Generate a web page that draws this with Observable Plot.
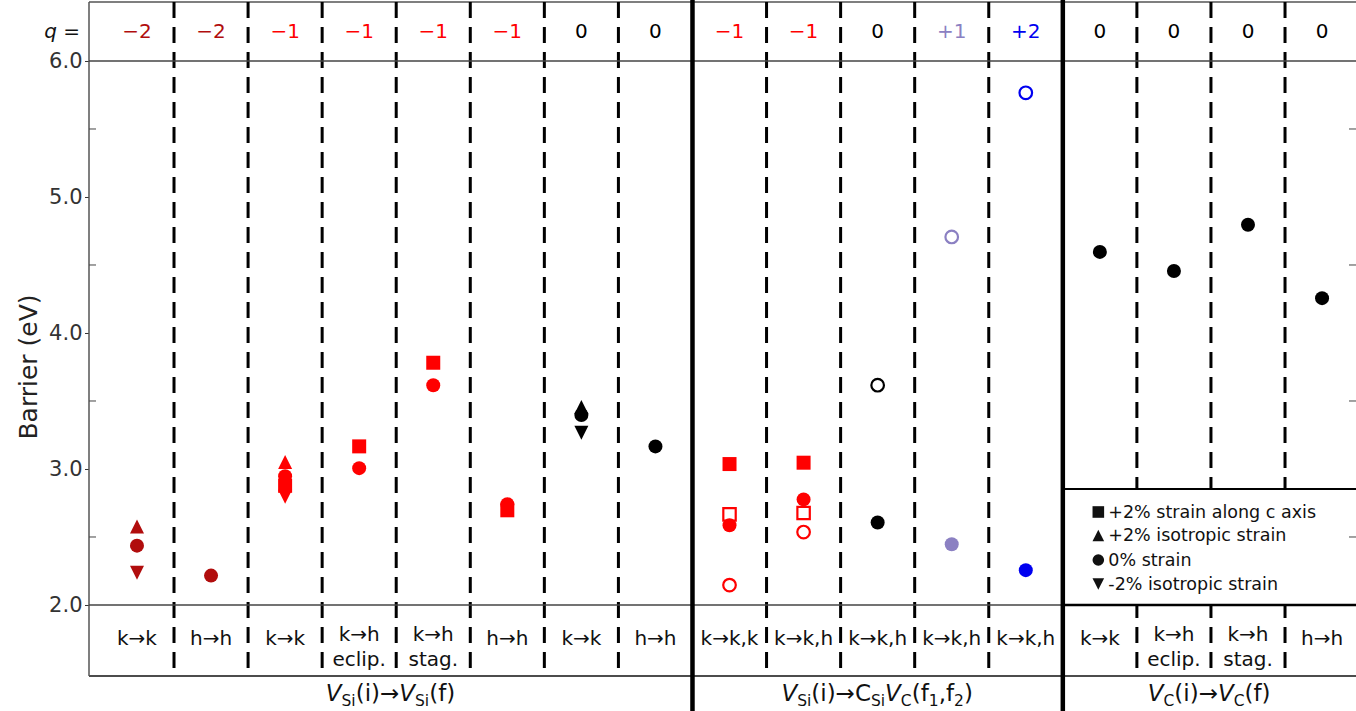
<!DOCTYPE html>
<html>
<head>
<meta charset="utf-8">
<script src="https://cdn.jsdelivr.net/npm/d3@7"></script>
<script src="https://cdn.jsdelivr.net/npm/@observablehq/plot@0.6"></script>
<style>
html,body{margin:0;padding:0;background:#fff;}
#chart{width:1356px;height:711px;}
</style>
</head>
<body>
<div id="chart"></div>
<script>
// ---------- data ----------
const columns = [1,2,3,4,5,6,7,8,9,10,11,12,13,14,15,16,17];
const qValues = [-2,-2,-1,-1,-1,-1,0,0,-1,-1,0,1,2,0,0,0,0];
const qLabels = ["−2","−2","−1","−1","−1","−1","0","0","−1","−1","0","+1","+2","0","0","0","0"];
const transLabels = ["k→k","h→h","k→k","k→h","k→h","h→h","k→k","h→h","k→k,k","k→k,h","k→k,h","k→k,h","k→k,h","k→k","k→h","k→h","h→h"];
const subLabels = ["","","","eclip.","stag.","","","","","","","","","","eclip.","stag.",""];
const chargeKeys = [-2,-1,0,1,2];
const chargeColors = ["#b10d0d","#ff0000","#000000","#8b80c2","#0000f0"];

// +2% strain along c axis (filled squares)
const cAxisCols = [3,4,5,6,9,10];
const cAxisVals = [2.88,3.17,3.785,2.70,3.04,3.05];
// +2% isotropic strain (triangles up)
const isoPlusCols = [1,3,7];
const isoPlusVals = [2.58,3.055,3.46];
// 0% strain (filled circles)
const zeroCols = [1,2,3,4,5,6,7,8,9,10,11,12,13,14,15,16,17];
const zeroVals = [2.44,2.22,2.95,3.01,3.62,2.745,3.40,3.17,2.59,2.78,2.61,2.45,2.26,4.60,4.46,4.80,4.26];
// -2% isotropic strain (triangles down)
const isoMinusCols = [1,3,7];
const isoMinusVals = [2.24,2.80,3.27];
// open markers
const openSqCols = [9,10];
const openSqVals = [2.67,2.68];
const openCircCols = [9,10,11,12,13];
const openCircVals = [2.15,2.54,3.62,4.71,5.77];

const yTicks = [2,3,4,5,6];
const minorTicks = [2.5,3.5,4.5,5.5];
const dashedBounds = [1.5,2.5,3.5,4.5,5.5,6.5,7.5,9.5,10.5,11.5,12.5,14.5,15.5,16.5];
const groupBounds = [8.5,13.5];
const legendLabels = ["+2% strain along c axis","+2% isotropic strain","0% strain","-2% isotropic strain"];
const groupLabels = [
  [["V","i"],["Si","sub"],["(i)→",""],["V","i"],["Si","sub"],["(f)",""]],
  [["V","i"],["Si","sub"],["(i)→C",""],["Si","sub"],["V","i"],["C","sub"],["(f",""],["1","sub"],[",f",""],["2","sub"],[")",""]],
  [["V","i"],["C","sub"],["(i)→",""],["V","i"],["C","sub"],["(f)",""]]
];

// ---------- symbols ----------
const symSquare = {draw(ctx, size){const r=Math.sqrt(size/Math.PI);ctx.moveTo(-r,-r);ctx.lineTo(r,-r);ctx.lineTo(r,r);ctx.lineTo(-r,r);ctx.closePath();}};
const symTriUp = {draw(ctx, size){const r=Math.sqrt(size/Math.PI);ctx.moveTo(0,-r);ctx.lineTo(r,r);ctx.lineTo(-r,r);ctx.closePath();}};
const symTriDown = {draw(ctx, size){const r=Math.sqrt(size/Math.PI);ctx.moveTo(0,r);ctx.lineTo(r,-r);ctx.lineTo(-r,-r);ctx.closePath();}};
const symCircle = {draw(ctx, size){const r=Math.sqrt(size/Math.PI);ctx.moveTo(r,0);ctx.arc(0,0,r,0,2*Math.PI);}};

const pts = (cols, vals) => cols.map((c,i)=>({col:c, v:vals[i], q:qValues[c-1]}));
const colRows = columns.map((c,i)=>({col:c, q:qValues[i], ql:qLabels[i], t:transLabels[i], s:subLabels[i]}));

const FONT = "DejaVu Sans";

// layout layer: frame lines and minor ticks
function frameLayer(index, scales, values, dim) {
  const y = scales.y;
  const W = dim.width, H = dim.height, L = dim.marginLeft, T = dim.marginTop, B = H - dim.marginBottom;
  const g = d3.create("svg:g");
  const line = (x1,y1,x2,y2,s,w) => g.append("line").attr("x1",x1).attr("y1",y1).attr("x2",x2).attr("y2",y2).attr("stroke",s).attr("stroke-width",w);
  line(L, T, W, T, "#555", 1.5);
  line(L, B, W, B, "#111", 1.5);
  line(L, T, L, B, "#555", 1.5);
  for (const v of minorTicks) { line(L, y(v), L+7, y(v), "#444", 1); line(W-7, y(v), W, y(v), "#444", 1); }
  return g.node();
}

function legendLayer(index, scales, values, dim) {
  const x = scales.x, y = scales.y;
  const W = dim.width, L = dim.marginLeft;
  const g = d3.create("svg:g");
  const line = (x1,y1,x2,y2,s,w) => g.append("line").attr("x1",x1).attr("y1",y1).attr("x2",x2).attr("y2",y2).attr("stroke",s).attr("stroke-width",w);
  const lx = x(groupBounds[1]);
  const yb = y(yTicks[0]);
  const top = yb - 116;
  g.append("rect").attr("x", lx).attr("y", top).attr("width", W - lx).attr("height", yb - top).attr("fill", "white");
  line(L, y(yTicks[yTicks.length-1]), W, y(yTicks[yTicks.length-1]), "#444", 1.5);
  line(L, yb, W, yb, "#444", 1.5);
  line(lx, yb, W, yb, "#000", 2.5);
  line(lx, top, W, top, "#000", 2);
  line(W-7, y(2.5), W, y(2.5), "#444", 1);
  const syms = [symSquare, symTriUp, symCircle, symTriDown];
  const rows = [yb-93, yb-69.5, yb-45, yb-21];
  legendLabels.forEach((lab, i) => {
    g.append("path").attr("transform", `translate(${lx+36},${rows[i]})`).attr("d", d3.symbol(syms[i], 5.8*5.8*Math.PI)()).attr("fill", "#111");
    g.append("text").attr("x", lx+46).attr("y", rows[i]+6).attr("text-anchor","start").attr("font-size", 17.5).attr("font-family", FONT).attr("fill", "#111").text(lab);
  });
  return g.node();
}

function textLayer(index, scales, values, dim) {
  const x = scales.x;
  const W = dim.width, H = dim.height, L = dim.marginLeft;
  const g = d3.create("svg:g").attr("font-family", FONT);
  // q =
  const q = g.append("text").attr("x", L-9).attr("y", 38).attr("text-anchor","end").attr("font-size",20).attr("fill","#111");
  q.append("tspan").attr("font-style","italic").text("q");
  q.append("tspan").text(" =");
  // y label
  g.append("text").attr("transform","translate(37,367) rotate(-90)").attr("text-anchor","middle").attr("font-size",25).attr("fill","#222").text("Barrier (eV)");
  // group labels
  const edges = [L, x(groupBounds[0]), x(groupBounds[1]), W];
  groupLabels.forEach((parts, k) => {
    const cx = (edges[k] + edges[k+1]) / 2;
    const t = g.append("text").attr("x", cx).attr("y", 701).attr("text-anchor","middle").attr("font-size",23).attr("fill","#111");
    let shifted = false;
    for (const [s, st] of parts) {
      const sp = t.append("tspan").text(s);
      if (st === "sub") { sp.attr("font-size", 15.5); if (!shifted) { sp.attr("dy", 5); shifted = true; } }
      else { if (shifted) { sp.attr("dy", -5); shifted = false; } if (st === "i") sp.attr("font-style","italic"); }
    }
  });
  return g.node();
}

const chart = Plot.plot({
  width: 1356,
  height: 711,
  marginLeft: 89,
  marginRight: 0,
  marginTop: 2,
  marginBottom: 35,
  style: {fontFamily: FONT, fontSize: "21px", color: "#333", background: "white"},
  x: {domain: [0.359, 17.465], axis: null},
  y: {domain: [1.4779, 6.4338], ticks: yTicks, tickFormat: d3.format(".1f"), tickSize: 4, tickPadding: 3, label: null},
  color: {type: "ordinal", domain: chargeKeys, range: chargeColors},
  marks: [
    frameLayer,
    Plot.ruleX(dashedBounds, {stroke: "#000", strokeWidth: 3, strokeDasharray: "16,9"}),
    legendLayer,
    Plot.ruleX(groupBounds, {stroke: "#000", strokeWidth: 4.5, insetTop: -2, insetBottom: -35}),
    Plot.text(colRows, {x: "col", text: "ql", fill: "q", frameAnchor: "top", lineAnchor: "middle", dy: 29, fontSize: 20}),
    Plot.text(colRows.filter(d => d.s === ""), {x: "col", text: "t", fill: "#111", frameAnchor: "bottom", lineAnchor: "middle", dy: -38, fontSize: 20}),
    Plot.text(colRows.filter(d => d.s !== ""), {x: "col", text: "t", fill: "#111", frameAnchor: "bottom", lineAnchor: "middle", dy: -42, fontSize: 20}),
    Plot.text(colRows.filter(d => d.s !== ""), {x: "col", text: "s", fill: "#111", frameAnchor: "bottom", lineAnchor: "middle", dy: -17, fontSize: 20}),
    textLayer,
    Plot.dot(pts(openSqCols, openSqVals), {x: "col", y: "v", symbol: symSquare, r: 6.2, fill: "none", stroke: "q", strokeWidth: 2.2}),
    Plot.dot(pts(openCircCols, openCircVals), {x: "col", y: "v", symbol: symCircle, r: 6.3, fill: "none", stroke: "q", strokeWidth: 2.2}),
    Plot.dot(pts(cAxisCols, cAxisVals), {x: "col", y: "v", symbol: symSquare, r: 7, fill: "q"}),
    Plot.dot(pts(isoPlusCols, isoPlusVals), {x: "col", y: "v", symbol: symTriUp, r: 7, fill: "q"}),
    Plot.dot(pts(isoMinusCols, isoMinusVals), {x: "col", y: "v", symbol: symTriDown, r: 7, fill: "q"}),
    Plot.dot(pts(zeroCols, zeroVals), {x: "col", y: "v", symbol: symCircle, r: 7, fill: "q"})
  ]
});
document.getElementById("chart").appendChild(chart);
</script>
</body>
</html>
